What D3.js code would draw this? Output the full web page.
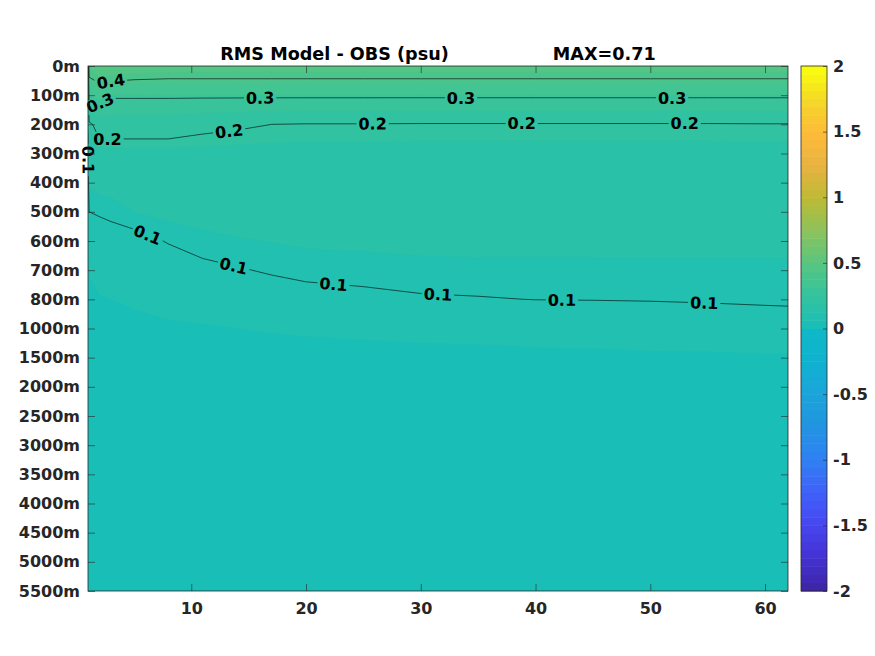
<!DOCTYPE html>
<meta charset="utf-8">
<style>
* {padding:0; margin:0; border:0; outline:0;}
body {background:#fff;}
text {font-family:"DejaVu Sans", sans-serif; font-weight:bold;}
</style>
<body>
<script src="https://d3js.org/d3.v7.min.js"></script>
<script>

// depth levels (rows of the field, evenly spaced on the axis)
depthLabels = ["0m","100m","200m","300m","400m","500m","600m","700m","800m",
               "1000m","1500m","2000m","2500m","3000m","3500m","4000m","4500m","5000m","5500m"];

// years at which the field is read (columns)
years = [1, 1.1, 2, 3, 5, 8, 11, 14, 17, 20, 25, 30, 35, 40, 45, 50, 55, 60, 62];

// RMS model - obs (psu), one row per depth level, one value per year above
rms = [
 [0.22,0.45,0.50,0.50,0.48,0.47,0.47,0.47,0.47,0.47,0.47,0.47,0.47,0.47,0.47,0.47,0.47,0.47,0.47],
 [0.17,0.32,0.33,0.31,0.31,0.31,0.31,0.31,0.31,0.31,0.31,0.31,0.31,0.31,0.31,0.31,0.31,0.31,0.31],
 [0.11,0.19,0.22,0.22,0.22,0.22,0.21,0.205,0.20,0.198,0.198,0.197,0.197,0.197,0.197,0.197,0.197,0.198,0.198],
 [0.09,0.16,0.18,0.18,0.18,0.18,0.18,0.18,0.18,0.18,0.18,0.18,0.18,0.18,0.18,0.18,0.18,0.18,0.18],
 [0.08,0.13,0.14,0.145,0.15,0.155,0.16,0.16,0.162,0.163,0.165,0.166,0.167,0.167,0.168,0.168,0.168,0.169,0.169],
 [0.07,0.10,0.102,0.105,0.125,0.135,0.14,0.145,0.145,0.15,0.152,0.153,0.154,0.155,0.156,0.156,0.157,0.158,0.158],
 [0.06,0.085,0.09,0.09,0.083,0.103,0.115,0.122,0.126,0.13,0.132,0.134,0.135,0.135,0.135,0.135,0.135,0.135,0.135],
 [0.055,0.065,0.075,0.08,0.075,0.073,0.09,0.097,0.104,0.11,0.113,0.116,0.117,0.117,0.117,0.118,0.118,0.118,0.118],
 [0.05,0.055,0.06,0.0625,0.066,0.068,0.07,0.075,0.08,0.085,0.09,0.096,0.098,0.1005,0.101,0.102,0.104,0.107,0.108],
 [0.045,0.05,0.05,0.052,0.056,0.06,0.061,0.0625,0.064,0.065,0.066,0.067,0.068,0.069,0.07,0.071,0.072,0.073,0.074],
 [0.04,0.045,0.045,0.046,0.05,0.052,0.053,0.055,0.055,0.056,0.057,0.058,0.058,0.059,0.059,0.06,0.06,0.061,0.061],
 [0.035,0.04,0.04,0.04,0.043,0.045,0.046,0.047,0.048,0.048,0.049,0.05,0.05,0.05,0.051,0.051,0.051,0.052,0.052],
 [0.033,0.038,0.038,0.038,0.04,0.041,0.042,0.043,0.044,0.044,0.045,0.046,0.046,0.046,0.047,0.047,0.047,0.047,0.047],
 [0.03,0.035,0.035,0.035,0.037,0.038,0.039,0.04,0.041,0.041,0.042,0.043,0.043,0.043,0.044,0.044,0.044,0.044,0.044],
 [0.03,0.033,0.033,0.033,0.035,0.036,0.037,0.038,0.039,0.039,0.04,0.041,0.041,0.041,0.041,0.041,0.041,0.041,0.041],
 [0.03,0.032,0.032,0.032,0.033,0.034,0.035,0.036,0.037,0.037,0.038,0.039,0.039,0.039,0.039,0.039,0.039,0.039,0.039],
 [0.03,0.031,0.031,0.031,0.032,0.033,0.034,0.035,0.036,0.036,0.037,0.038,0.038,0.038,0.038,0.038,0.038,0.038,0.038],
 [0.03,0.03,0.03,0.03,0.031,0.032,0.033,0.034,0.035,0.035,0.036,0.037,0.037,0.037,0.037,0.037,0.037,0.037,0.037],
 [0.03,0.03,0.03,0.03,0.03,0.031,0.032,0.033,0.034,0.034,0.035,0.036,0.036,0.036,0.036,0.036,0.036,0.036,0.036]
];

// contour levels and where along x their labels sit
levels = [0.1, 0.2, 0.3, 0.4];
labelYears01 = [1.02, 6.2, 13.7, 22.4, 31.5, 42.3, 54.7];
labelYears02 = [2.7, 13.3, 25.8, 38.8, 53.0];
labelYears03 = [2.05, 16.0, 33.5, 51.9];
labelYears04 = [3.0];

xTicks = [10, 20, 30, 40, 50, 60];
colorTicks = [-2, -1.5, -1, -0.5, 0, 0.5, 1, 1.5, 2];
titleText = "RMS Model - OBS (psu)";
maxText = "MAX=0.71";

// parula-like colormap, 64 steps
cmapStops = [0, 0.0625, 0.125, 0.1875, 0.25, 0.3125, 0.375, 0.4375, 0.492, 0.508, 0.556, 0.619, 0.6875, 0.75, 0.8125, 0.875, 0.9375, 1];
cmapColors = ["#3e26a8","#4433d6","#4648f0","#3f63fa","#2f82f2","#2394e2","#1ba5da","#0fb2ce","#0fb8c8",
              "#19beb7","#31c3a1","#53c584","#8ac35e","#bcba35","#e7b340","#fdba3a","#f5d62a","#f9fb0e"];

W = 875; H = 656;
plotL = 88; plotR = 788; plotT = 66; plotB = 591;
cbL = 801; cbR = 827;
ink = "#262626";

cmap = d3.scaleLinear().domain(cmapStops).range(cmapColors).interpolate(d3.interpolateRgb);
parula = d3.range(64).map(function(i){ return cmap(i / 63); });

svg = d3.select("body").append("svg").attr("width", W).attr("height", H);

x = d3.scaleLinear().domain([1, 62]).range([plotL, plotR]);
y = d3.scaleLinear().domain([0, depthLabels.length - 1]).range([plotT, plotB]);
colYear = d3.scaleLinear().domain(d3.range(years.length)).range(years);

nx = years.length; ny = depthLabels.length;
values = rms.flat();

function project(p){ return [x(colYear(p[0] - 0.5)), y(p[1] - 0.5)]; }
path = d3.geoPath(d3.geoTransform({
  point: function(px, py){ var q = project([px, py]); this.stream.point(q[0], q[1]); }
}));

defs = svg.append("defs");
defs.append("clipPath").attr("id", "plotclip")
  .append("rect").attr("x", plotL).attr("y", plotT)
  .attr("width", plotR - plotL).attr("height", plotB - plotT);

// filled field, one band per colormap step
fillThresholds = d3.range(64).map(function(k){ return -2 + k * 0.0625; });
bands = d3.contours().size([nx, ny]).thresholds(fillThresholds)(values);

svg.append("g").attr("clip-path", "url(#plotclip)")
  .selectAll("path")
  .data(bands)
  .enter().append("path")
    .attr("d", path)
    .attr("fill", function(d, i){ return parula[i]; })
    .attr("stroke", function(d, i){ return parula[i]; })
    .attr("stroke-width", 0.3);

// contour lines
lines = d3.contours().size([nx, ny]).thresholds(levels)(values);

mask = defs.append("mask").attr("id", "lblmask")
  .attr("maskUnits", "userSpaceOnUse")
  .attr("x", 0).attr("y", 0).attr("width", W).attr("height", H);
mask.append("rect").attr("width", W).attr("height", H).attr("fill", "#fff");

svg.append("g").attr("clip-path", "url(#plotclip)")
  .append("g").attr("mask", "url(#lblmask)")
  .selectAll("path")
  .data(lines)
  .enter().append("path")
    .attr("d", path)
    .attr("fill", "none")
    .attr("stroke", "#000")
    .attr("stroke-width", 0.6);

function labelPoint(geom, year){
  var px0 = x(year), best = null;
  geom.coordinates.forEach(function(poly){
    poly.forEach(function(ring){
      for (var i = 1; i < ring.length; i++) {
        var a = project(ring[i-1]), b = project(ring[i]);
        if (a[0] === b[0] || (a[0] - px0) * (b[0] - px0) > 0) continue;
        var f = (px0 - a[0]) / (b[0] - a[0]);
        var py0 = a[1] + f * (b[1] - a[1]);
        if (py0 < plotT + 2 || py0 > plotB - 2) continue;
        if (best && py0 >= best.y) continue;
        var ang = Math.atan2(b[1] - a[1], b[0] - a[0]) * 180 / Math.PI;
        if (ang > 90) ang -= 180;
        if (ang < -90) ang += 180;
        best = {x: px0, y: py0, ang: ang};
      }
    });
  });
  return best;
}

labelSets = [labelYears01, labelYears02, labelYears03, labelYears04];
labelData = [];
levels.forEach(function(lv, li){
  labelSets[li].forEach(function(yr){
    var p = labelPoint(lines[li], yr);
    if (p) { p.text = String(lv); labelData.push(p); }
  });
});

lbl = svg.append("g").selectAll("text")
  .data(labelData)
  .enter().append("text")
    .attr("transform", function(d){ return "translate(" + d.x + "," + d.y + ") rotate(" + d.ang + ")"; })
    .attr("text-anchor", "middle")
    .attr("dy", "0.36em")
    .attr("font-size", 16)
    .attr("fill", "#000")
    .text(function(d){ return d.text; });

lbl.each(function(d){ d.w = this.getComputedTextLength(); });
mask.selectAll("rect.cut")
  .data(labelData)
  .enter().append("rect")
    .attr("class", "cut")
    .attr("x", function(d){ return -d.w / 2 - 2; })
    .attr("y", -7)
    .attr("width", function(d){ return d.w + 4; })
    .attr("height", 14)
    .attr("fill", "#000")
    .attr("transform", function(d){ return "translate(" + d.x + "," + d.y + ") rotate(" + d.ang + ")"; });

// axes
function styleAxis(g){
  g.select(".domain").remove();
  g.selectAll(".tick line").attr("stroke", ink).attr("stroke-width", 0.6);
  g.selectAll(".tick text").attr("fill", ink).attr("font-size", 16)
    .attr("font-family", "DejaVu Sans, sans-serif").attr("font-weight", "bold");
}

yTickVals = d3.range(depthLabels.length);
svg.append("g").attr("transform", "translate(" + plotL + ",0)")
  .call(d3.axisLeft(y).tickValues(yTickVals).tickSize(-7).tickPadding(8)
        .tickFormat(function(i){ return depthLabels[i]; }))
  .call(styleAxis);
svg.append("g").attr("transform", "translate(" + plotR + ",0)")
  .call(d3.axisRight(y).tickValues(yTickVals).tickSize(-7).tickFormat(""))
  .call(styleAxis);
svg.append("g").attr("transform", "translate(0," + plotB + ")")
  .call(d3.axisBottom(x).tickValues(xTicks).tickSize(-7).tickPadding(12).tickFormat(d3.format("d")))
  .call(styleAxis);
svg.append("g").attr("transform", "translate(0," + plotT + ")")
  .call(d3.axisTop(x).tickValues(xTicks).tickSize(-7).tickFormat(""))
  .call(styleAxis);

svg.append("rect")
  .attr("x", plotL).attr("y", plotT)
  .attr("width", plotR - plotL).attr("height", plotB - plotT)
  .attr("fill", "none").attr("stroke", ink).attr("stroke-width", 0.8);

// colorbar
cy = d3.scaleLinear().domain([-2, 2]).range([plotB, plotT]);
svg.append("g").selectAll("rect")
  .data(fillThresholds)
  .enter().append("rect")
    .attr("x", cbL)
    .attr("y", function(t){ return cy(t + 0.0625); })
    .attr("width", cbR - cbL)
    .attr("height", function(t){ return cy(t) - cy(t + 0.0625) + 0.5; })
    .attr("fill", function(t, i){ return parula[i]; });

svg.append("g").attr("transform", "translate(" + cbR + ",0)")
  .call(d3.axisRight(cy).tickValues(colorTicks).tickSize(-4).tickPadding(6)
        .tickFormat(function(v){ return String(v); }))
  .call(styleAxis);

svg.append("rect")
  .attr("x", cbL).attr("y", plotT)
  .attr("width", cbR - cbL).attr("height", plotB - plotT)
  .attr("fill", "none").attr("stroke", ink).attr("stroke-width", 0.8);

// title
svg.append("text")
  .attr("x", (plotL + plotR) / 2)
  .attr("y", 60)
  .attr("text-anchor", "middle")
  .attr("font-size", 17.6)
  .attr("fill", "#000")
  .style("white-space", "pre")
  .text(titleText + " ".repeat(17) + maxText);

</script>
